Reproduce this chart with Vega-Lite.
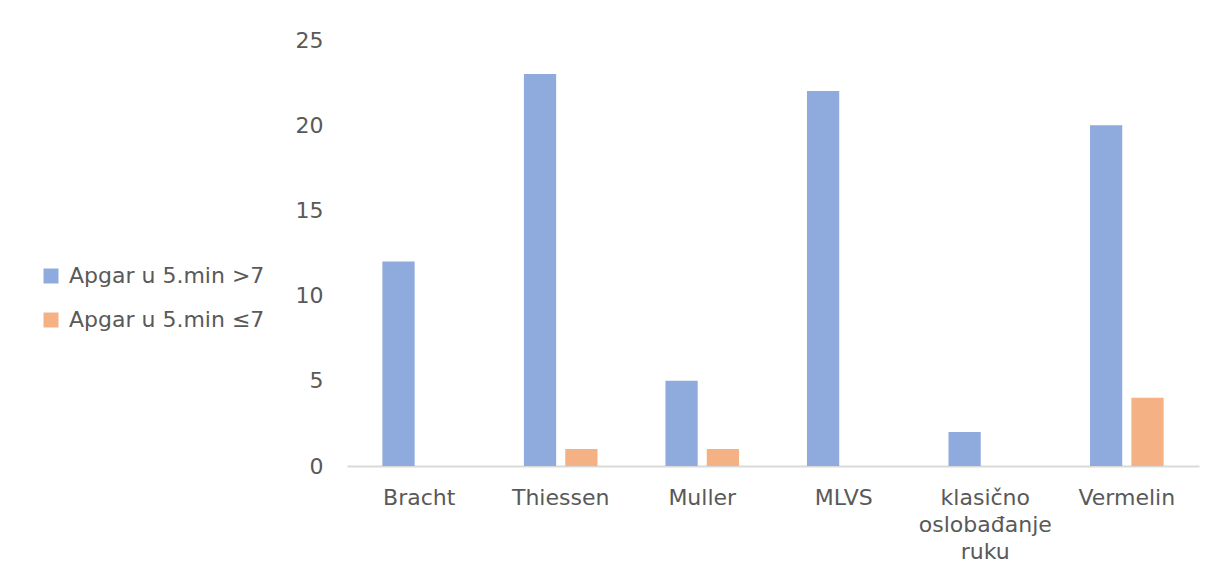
{
  "$schema": "https://vega.github.io/schema/vega-lite/v6.json",
  "width": 852,
  "height": 426,
  "autosize": "none",
  "padding": {"left": 347, "top": 40, "right": 23, "bottom": 116},
  "background": "white",
  "config": {
    "view": {"stroke": null},
    "font": "DejaVu Sans"
  },
  "data": {
    "values": [
      {"metoda": "Bracht", "serija": "Apgar u 5.min >7", "broj": 12},
      {"metoda": "Bracht", "serija": "Apgar u 5.min ≤7", "broj": 0},
      {"metoda": "Thiessen", "serija": "Apgar u 5.min >7", "broj": 23},
      {"metoda": "Thiessen", "serija": "Apgar u 5.min ≤7", "broj": 1},
      {"metoda": "Muller", "serija": "Apgar u 5.min >7", "broj": 5},
      {"metoda": "Muller", "serija": "Apgar u 5.min ≤7", "broj": 1},
      {"metoda": "MLVS", "serija": "Apgar u 5.min >7", "broj": 22},
      {"metoda": "MLVS", "serija": "Apgar u 5.min ≤7", "broj": 0},
      {"metoda": "klasično oslobađanje ruku", "serija": "Apgar u 5.min >7", "broj": 2},
      {"metoda": "klasično oslobađanje ruku", "serija": "Apgar u 5.min ≤7", "broj": 0},
      {"metoda": "Vermelin", "serija": "Apgar u 5.min >7", "broj": 20},
      {"metoda": "Vermelin", "serija": "Apgar u 5.min ≤7", "broj": 4}
    ]
  },
  "mark": {"type": "bar"},
  "encoding": {
    "x": {
      "field": "metoda",
      "type": "nominal",
      "sort": null,
      "scale": {"paddingInner": 0.48, "paddingOuter": 0.25},
      "axis": {
        "title": null,
        "labelAngle": 0,
        "ticks": false,
        "domainColor": "#d9d9d9",
        "domainWidth": 2,
        "labelColor": "#595959",
        "labelFontSize": 22,
        "labelPadding": 21,
        "labelLineHeight": 27,
        "labelLimit": 0,
        "labelExpr": "datum.label == 'klasično oslobađanje ruku' ? ['klasično', 'oslobađanje', 'ruku'] : datum.label"
      }
    },
    "xOffset": {
      "field": "serija",
      "type": "nominal",
      "scale": {"paddingInner": 0.22, "paddingOuter": 0}
    },
    "y": {
      "field": "broj",
      "type": "quantitative",
      "scale": {"domain": [0, 25], "nice": false},
      "axis": {
        "title": null,
        "values": [0, 5, 10, 15, 20, 25],
        "domain": false,
        "ticks": false,
        "grid": false,
        "labelColor": "#595959",
        "labelFontSize": 22,
        "labelPadding": 24
      }
    },
    "color": {
      "field": "serija",
      "type": "nominal",
      "scale": {"domain": ["Apgar u 5.min >7", "Apgar u 5.min ≤7"], "range": ["#8faadc", "#f4b183"]},
      "legend": {
        "title": null,
        "orient": "none",
        "legendX": -307,
        "legendY": 225,
        "symbolType": "square",
        "symbolSize": 225,
        "symbolStrokeWidth": 0,
        "labelColor": "#595959",
        "labelFontSize": 22,
        "labelOffset": 7,
        "labelLimit": 0,
        "rowPadding": 22
      }
    }
  }
}
